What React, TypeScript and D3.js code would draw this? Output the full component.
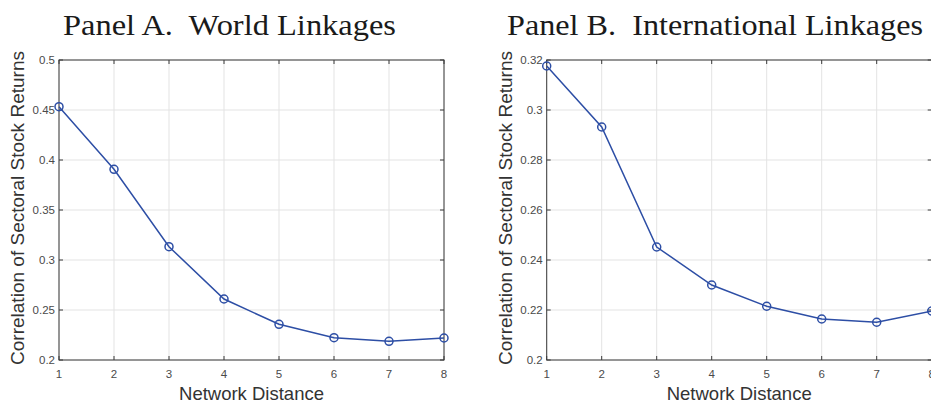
import * as d3 from "d3";
import { useRef, useEffect } from "react";

// network distance on the x axis
const distances = [1, 2, 3, 4, 5, 6, 7, 8];

// panel A, world linkages
const worldCorr = [0.4533, 0.3907, 0.3133, 0.261, 0.2357, 0.2223, 0.2187, 0.222];
const worldTicks = [0.2, 0.25, 0.3, 0.35, 0.4, 0.45, 0.5];
const worldTickLabels = ["0.2", "0.25", "0.3", "0.35", "0.4", "0.45", "0.5"];

// panel B, international linkages
const intlCorr = [0.3176, 0.2932, 0.2452, 0.23, 0.2215, 0.2164, 0.2151, 0.2196];
const intlTicks = [0.2, 0.22, 0.24, 0.26, 0.28, 0.3, 0.32];
const intlTickLabels = ["0.2", "0.22", "0.24", "0.26", "0.28", "0.3", "0.32"];

const titles = ["Panel A.  World Linkages", "Panel B.  International Linkages"];
const xLabel = "Network Distance";
const yLabel = "Correlation of Sectoral Stock Returns";

const W = 931;
const H = 403;

const App = () => {
  const ref = useRef<SVGSVGElement>(null);

  useEffect(() => {
    const svg = d3.select(ref.current);
    svg.selectAll("*").remove();

    const panels = [
      { left: 59, values: worldCorr, ticks: worldTicks, labels: worldTickLabels, title: titles[0], tw: 333, tc: 229.5 },
      { left: 546.7, values: intlCorr, ticks: intlTicks, labels: intlTickLabels, title: titles[1], tw: 416, tc: 715 },
    ];
    const top = 60;
    const bottom = 360;
    const plotW = 385;
    const axisCol = "#3a3a3a";
    const blue = "#2d4ea5";
    const sans = "Liberation Sans, Arial, sans-serif";

    panels.forEach((p) => {
      const x = d3.scaleLinear().domain([1, 8]).range([p.left, p.left + plotW]);
      const y = d3.scaleLinear().domain([p.ticks[0], p.ticks[p.ticks.length - 1]]).range([bottom, top]);
      const g = svg.append("g");

      // grid
      g.selectAll(".gx").data(distances).enter().append("line")
        .attr("x1", (d) => x(d)).attr("x2", (d) => x(d))
        .attr("y1", top).attr("y2", bottom)
        .attr("stroke", "#e3e3e3").attr("stroke-width", 1);
      g.selectAll(".gy").data(p.ticks).enter().append("line")
        .attr("x1", p.left).attr("x2", p.left + plotW)
        .attr("y1", (d) => y(d)).attr("y2", (d) => y(d))
        .attr("stroke", "#e3e3e3").attr("stroke-width", 1);

      // box
      g.append("rect")
        .attr("x", p.left).attr("y", top)
        .attr("width", plotW).attr("height", bottom - top)
        .attr("fill", "none").attr("stroke", axisCol).attr("stroke-width", 1);

      // inward ticks, all four sides
      const tl = 4;
      distances.forEach((d) => {
        g.append("line").attr("x1", x(d)).attr("x2", x(d)).attr("y1", bottom).attr("y2", bottom - tl).attr("stroke", axisCol);
        g.append("line").attr("x1", x(d)).attr("x2", x(d)).attr("y1", top).attr("y2", top + tl).attr("stroke", axisCol);
      });
      p.ticks.forEach((t) => {
        g.append("line").attr("x1", p.left).attr("x2", p.left + tl).attr("y1", y(t)).attr("y2", y(t)).attr("stroke", axisCol);
        g.append("line").attr("x1", p.left + plotW).attr("x2", p.left + plotW - tl).attr("y1", y(t)).attr("y2", y(t)).attr("stroke", axisCol);
      });

      // tick labels
      g.selectAll(".xt").data(distances).enter().append("text")
        .attr("x", (d) => x(d)).attr("y", 378)
        .attr("text-anchor", "middle")
        .attr("font-family", sans)
        .attr("font-size", 11.5).attr("fill", "#4a4a4a")
        .text((d) => String(d));
      g.selectAll(".yt").data(p.ticks).enter().append("text")
        .attr("x", p.left - 4).attr("y", (d) => y(d) + 4)
        .attr("text-anchor", "end")
        .attr("font-family", sans)
        .attr("font-size", 11.5).attr("fill", "#4a4a4a")
        .text((d, i) => p.labels[i]);

      // axis labels
      g.append("text")
        .attr("x", p.left + plotW / 2).attr("y", 400)
        .attr("text-anchor", "middle")
        .attr("font-family", sans)
        .attr("font-size", 18.5).attr("fill", "#333")
        .text(xLabel);
      g.append("text")
        .attr("transform", `translate(${p.left - 35},365) rotate(-90)`)
        .attr("text-anchor", "start")
        .attr("font-family", sans)
        .attr("font-size", 18.5).attr("fill", "#333")
        .attr("textLength", 314).attr("lengthAdjust", "spacingAndGlyphs")
        .text(yLabel);

      // title
      g.append("text")
        .attr("x", p.tc - p.tw / 2).attr("y", 35)
        .attr("font-family", "Liberation Serif, Times New Roman, serif")
        .attr("font-size", 30).attr("fill", "#1a1a1a")
        .attr("textLength", p.tw).attr("lengthAdjust", "spacingAndGlyphs")
        .style("white-space", "pre")
        .text(p.title);

      // series
      const line = d3.line<number>().x((d, i) => x(distances[i])).y((d) => y(d));
      g.append("path").datum(p.values)
        .attr("d", line).attr("fill", "none")
        .attr("stroke", blue).attr("stroke-width", 1.5);
      g.selectAll(".pt").data(p.values).enter().append("circle")
        .attr("cx", (d, i) => x(distances[i])).attr("cy", (d) => y(d))
        .attr("r", 4).attr("fill", "none")
        .attr("stroke", blue).attr("stroke-width", 1.5);
    });
  }, []);

  return (
    <svg ref={ref} width={W} height={H}
      style={{ position: "absolute", left: 0, top: 0, background: "#fff" }} />
  );
};

export default App;
